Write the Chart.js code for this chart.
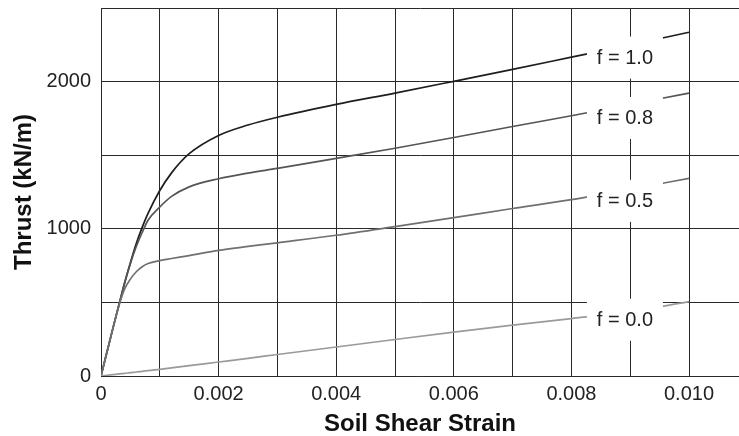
<!DOCTYPE html>
<html><head><meta charset="utf-8">
<script src="https://cdn.jsdelivr.net/npm/chart.js@4/dist/chart.umd.min.js"></script>
<style>html,body{margin:0;padding:0;background:#fff}#wrap{width:739px;height:436px;position:relative}</style>
</head><body><div id="wrap"><canvas id="c"></canvas></div>
<script>
// ---- data ----
const strain = [0, 0.0002, 0.0003, 0.0004, 0.0005, 0.0006, 0.0007, 0.0008, 0.001, 0.0012, 0.0015, 0.002, 0.0025, 0.003, 0.004, 0.005, 0.006, 0.007, 0.008, 0.009, 0.010];
const thrustF10 = [0, 320, 475, 630, 770, 900, 1010, 1105, 1260, 1380, 1510, 1634, 1705, 1758, 1845, 1922, 2002, 2083, 2166, 2249, 2335];
const thrustF08 = [0, 320, 475, 630, 765, 880, 975, 1058, 1148, 1220, 1285, 1340, 1378, 1410, 1478, 1547, 1620, 1695, 1768, 1845, 1922];
const thrustF05 = [0, 320, 470, 590, 658, 708, 742, 764, 784, 798, 818, 854, 880, 905, 956, 1015, 1076, 1138, 1198, 1268, 1343];
const thrustF00 = [0, 9, 14, 18, 23, 27, 32, 36, 45, 55, 70, 95, 120, 146, 197, 248, 298, 345, 390, 437, 505];
const seriesNames = ['f = 0.0', 'f = 0.5', 'f = 0.8', 'f = 1.0'];
const xTickValues = [0, 0.001, 0.002, 0.003, 0.004, 0.005, 0.006, 0.007, 0.008, 0.009, 0.010];
const xTickLabels = ['0', '', '0.002', '', '0.004', '', '0.006', '', '0.008', '', '0.010'];
const yTickValues = [0, 500, 1000, 1500, 2000, 2500];
const yTickLabels = ['0', '', '1000', '', '2000', ''];
const labelStrain = 0.00891;
const labelThrust = [382, 1190, 1753, 2163];

const FONT = '"Liberation Sans", Arial, Helvetica, sans-serif';
const colors = ['#9a9a9a', '#707070', '#555555', '#1e1e1e'];
const allSeries = [thrustF00, thrustF05, thrustF08, thrustF10];

const datasets = allSeries.map((arr, i) => ({
  label: seriesNames[i],
  data: strain.map((s, j) => ({x: s, y: arr[j]})),
  borderColor: colors[i],
  borderWidth: 1.7,
  pointRadius: 0,
  fill: false,
  cubicInterpolationMode: 'monotone'
}));

const labelPlugin = {
  id: 'curveLabels',
  afterDatasetsDraw(chart) {
    const {ctx, scales: {x, y}} = chart;
    ctx.save();
    ctx.font = '20px ' + FONT;
    ctx.textAlign = 'center';
    ctx.textBaseline = 'middle';
    seriesNames.forEach((t, i) => {
      const px = x.getPixelForValue(labelStrain);
      const py = y.getPixelForValue(labelThrust[i]);
      ctx.fillStyle = '#fff';
      ctx.fillRect(px - 38, py - 21, 76, 42);
      ctx.fillStyle = '#222';
      ctx.fillText(t, px, py + 1);
    });
    ctx.restore();
  }
};

new Chart(document.getElementById('c'), {
  type: 'line',
  data: {datasets},
  plugins: [labelPlugin],
  options: {
    responsive: true,
    maintainAspectRatio: false,
    animation: false,
    events: [],
    layout: {padding: {top: 8, right: 0, left: 0, bottom: 0}},
    plugins: {legend: {display: false}, tooltip: {enabled: false}},
    scales: {
      x: {
        type: 'linear',
        min: 0,
        max: 0.01085,
        afterBuildTicks: (axis) => { axis.ticks = xTickValues.map(v => ({value: v})); },
        afterFit: (axis) => { axis.height = 60; axis.paddingLeft = 0; axis.paddingRight = 0; },
        ticks: {
          autoSkip: false, maxRotation: 0, padding: 6, color: '#222',
          font: {family: FONT, size: 20},
          callback: (v, i) => xTickLabels[i]
        },
        grid: {color: '#2a2a2a', lineWidth: 1, drawTicks: false},
        border: {display: true, color: '#2a2a2a', width: 1},
        title: {
          display: true, text: 'Soil Shear Strain', color: '#111',
          font: {family: FONT, size: 24, weight: 'bold', lineHeight: 1},
          padding: {top: 0, bottom: 0}
        }
      },
      y: {
        type: 'linear',
        min: 0,
        max: 2500,
        afterBuildTicks: (axis) => { axis.ticks = yTickValues.map(v => ({value: v})); },
        afterFit: (axis) => { axis.width = 101; axis.paddingTop = 0; axis.paddingBottom = 0; },
        ticks: {
          autoSkip: false, padding: 10, color: '#222',
          font: {family: FONT, size: 20},
          callback: (v, i) => yTickLabels[i]
        },
        grid: {color: '#2a2a2a', lineWidth: 1, drawTicks: false},
        border: {display: true, color: '#2a2a2a', width: 1},
        title: {
          display: true, text: 'Thrust (kN/m)', color: '#111',
          font: {family: FONT, size: 24, weight: 'bold', lineHeight: 1},
          padding: {top: 12, bottom: 0}
        }
      }
    }
  }
});
</script>
</body></html>
